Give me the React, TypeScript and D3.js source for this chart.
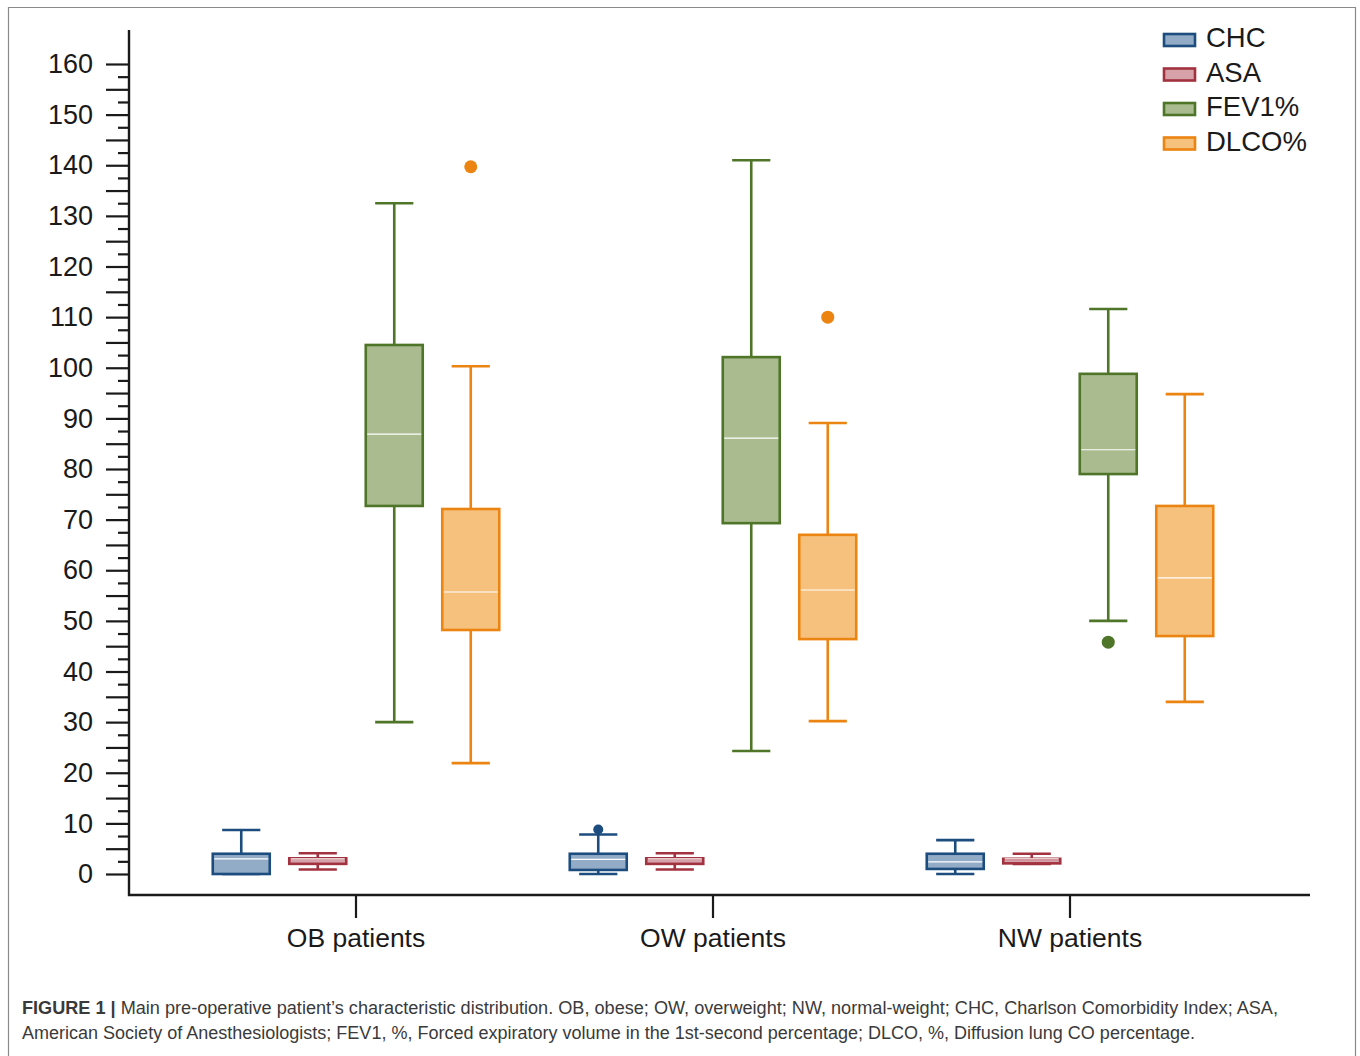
import React, { useEffect, useRef } from 'react';
import * as d3 from 'd3';

// groups on the x axis and the four series drawn in each group
const groups = ['OB patients', 'OW patients', 'NW patients'];
const seriesNames = ['CHC', 'ASA', 'FEV1%', 'DLCO%'];

// [lower whisker, q1, median, q3, upper whisker] per group
const chcStats = [
	[0, 0, 3, 4, 8.7],
	[0, 0.8, 2.9, 4, 7.8],
	[0, 1, 2.4, 4, 6.7],
];
const asaStats = [
	[0.9, 2, 3, 3.1, 4.1],
	[0.9, 2, 3, 3.1, 4.1],
	[2, 2.1, 3, 3, 4],
];
const fev1Stats = [
	[30, 72.7, 86.9, 104.5, 132.5],
	[24.3, 69.3, 86.1, 102.1, 141],
	[50, 79, 83.8, 98.8, 111.6],
];
const dlcoStats = [
	[21.9, 48.2, 55.7, 72.1, 100.3],
	[30.2, 46.4, 56.1, 67, 89.1],
	[34, 47, 58.5, 72.7, 94.8],
];

// outlier points per group
const chcOutliers = [[], [8.8], []];
const asaOutliers = [[], [], []];
const fev1Outliers = [[], [], [45.8]];
const dlcoOutliers = [[139.7], [110], []];

const yTickValues = d3.range(0, 161, 5);
const yMinorValues = d3.range(2.5, 160, 5);

const strokeColors = ['#1d4d7e', '#a2323f', '#4f7529', '#ec8412'];
const fillColors = ['#92abc6', '#d6a1a8', '#a9bb8f', '#f5c17d'];

const captionBold = 'FIGURE 1 |';
const captionLine1 =
	' Main pre-operative patient’s characteristic distribution. OB, obese; OW, overweight; NW, normal-weight; CHC, Charlson Comorbidity Index; ASA,';
const captionLine2 =
	'American Society of Anesthesiologists; FEV1, %, Forced expiratory volume in the 1st-second percentage; DLCO, %, Diffusion lung CO percentage.';

const W = 1360;
const H = 1056;
const font = '"Liberation Sans", Arial, sans-serif';

const App: React.FC = () => {
	const ref = useRef<SVGSVGElement>(null);

	useEffect(() => {
		if (!ref.current) return;
		const svg = d3.select(ref.current);
		svg.selectAll('*').remove();

		const axisX = 129;
		const axisBottom = 895;
		const axisTop = 30;
		const axisRight = 1310;

		// frame round the figure
		svg
			.append('path')
			.attr('d', `M8.5,${H} V7.5 H1355.5 V${H}`)
			.attr('fill', 'none')
			.attr('stroke', '#8a8a8a')
			.attr('stroke-width', 1.2);

		const y = d3.scaleLinear().domain([0, 160]).range([874, 64]);

		const x0 = d3.scaleBand().domain(groups).range([177.5, 1248.5]);
		const x1 = d3.scaleBand().domain(seriesNames).range([-153, 153]);
		const boxW = x1.bandwidth() * 0.745;
		const capW = boxW * 0.67;

		// --- y axis ---
		const yAxis = d3
			.axisLeft(y)
			.tickValues(yTickValues)
			.tickSize(23)
			.tickPadding(13)
			.tickFormat((d) => ((d as number) % 10 === 0 ? String(d) : ''));
		const gy = svg
			.append('g')
			.attr('transform', `translate(${axisX},0)`)
			.call(yAxis);
		gy.select('.domain').remove();
		gy.selectAll('line').attr('stroke', '#1a1a1a').attr('stroke-width', 2.2);
		gy.selectAll('text')
			.attr('font-family', font)
			.attr('font-size', 27)
			.attr('fill', '#1a1a1a');

		const gyMinor = svg
			.append('g')
			.attr('transform', `translate(${axisX},0)`)
			.call(
				d3
					.axisLeft(y)
					.tickValues(yMinorValues)
					.tickSize(11)
					.tickFormat(() => ''),
			);
		gyMinor.select('.domain').remove();
		gyMinor
			.selectAll('line')
			.attr('stroke', '#1a1a1a')
			.attr('stroke-width', 2.2);

		// axis lines
		svg
			.append('path')
			.attr('d', `M${axisX},${axisTop} V${axisBottom} H${axisRight}`)
			.attr('fill', 'none')
			.attr('stroke', '#1a1a1a')
			.attr('stroke-width', 2.4);

		// --- x axis ticks and labels ---
		const xAxis = d3
			.axisBottom(x0)
			.tickSize(23)
			.tickPadding(10)
			.tickSizeOuter(0);
		const gx = svg
			.append('g')
			.attr('transform', `translate(0,${axisBottom})`)
			.call(xAxis);
		gx.select('.domain').remove();
		gx.selectAll('line').attr('stroke', '#1a1a1a').attr('stroke-width', 2.2);
		gx.selectAll('text')
			.attr('font-family', font)
			.attr('font-size', 26.5)
			.attr('fill', '#1a1a1a');

		// --- boxes ---
		const statsBySeries = [chcStats, asaStats, fev1Stats, dlcoStats];
		const outliersBySeries = [chcOutliers, asaOutliers, fev1Outliers, dlcoOutliers];

		seriesNames.forEach((name, si) => {
			groups.forEach((grp, gi) => {
				const [lo, q1, med, q3, hi] = statsBySeries[si][gi];
				const cx = (x0(grp) ?? 0) + x0.bandwidth() / 2 + (x1(name) ?? 0) + x1.bandwidth() / 2;
				const g = svg.append('g');
				const stroke = strokeColors[si];

				// whiskers
				g.append('line')
					.attr('x1', cx)
					.attr('x2', cx)
					.attr('y1', y(hi))
					.attr('y2', y(q3))
					.attr('stroke', stroke)
					.attr('stroke-width', 2.6);
				g.append('line')
					.attr('x1', cx)
					.attr('x2', cx)
					.attr('y1', y(q1))
					.attr('y2', y(lo))
					.attr('stroke', stroke)
					.attr('stroke-width', 2.6);
				[lo, hi].forEach((v) => {
					g.append('line')
						.attr('x1', cx - capW / 2)
						.attr('x2', cx + capW / 2)
						.attr('y1', y(v))
						.attr('y2', y(v))
						.attr('stroke', stroke)
						.attr('stroke-width', 2.6);
				});

				// box
				g.append('rect')
					.attr('x', cx - boxW / 2)
					.attr('y', y(q3))
					.attr('width', boxW)
					.attr('height', Math.max(1, y(q1) - y(q3)))
					.attr('fill', fillColors[si])
					.attr('stroke', stroke)
					.attr('stroke-width', 2.6);

				// median
				g.append('line')
					.attr('x1', cx - boxW / 2 + 1.5)
					.attr('x2', cx + boxW / 2 - 1.5)
					.attr('y1', y(med))
					.attr('y2', y(med))
					.attr('stroke', '#ffffff')
					.attr('stroke-width', 1.2);

				// outliers
				outliersBySeries[si][gi].forEach((v) => {
					g.append('circle')
						.attr('cx', cx)
						.attr('cy', y(v))
						.attr('r', si === 0 ? 5 : 6.5)
						.attr('fill', stroke);
				});
			});
		});

		// --- legend ---
		const legend = svg
			.append('g')
			.selectAll('g')
			.data(seriesNames)
			.enter()
			.append('g')
			.attr('transform', (d, i) => `translate(1164,${34 + i * 34.5})`);
		legend
			.append('rect')
			.attr('width', 31)
			.attr('height', 12)
			.attr('fill', (d, i) => fillColors[i])
			.attr('stroke', (d, i) => strokeColors[i])
			.attr('stroke-width', 2.6);
		legend
			.append('text')
			.attr('x', 42)
			.attr('y', 13)
			.attr('font-family', font)
			.attr('font-size', 27.5)
			.attr('fill', '#1a1a1a')
			.text((d) => d);

		// --- caption ---
		const cap1 = svg
			.append('text')
			.attr('x', 22)
			.attr('y', 1014)
			.attr('font-family', font)
			.attr('font-size', 17.5)
			.attr('fill', '#3a3a3a')
			.attr('textLength', 1256)
			.attr('lengthAdjust', 'spacingAndGlyphs');
		cap1.append('tspan').attr('font-weight', 'bold').text(captionBold);
		cap1.append('tspan').text(captionLine1);
		svg
			.append('text')
			.attr('x', 22)
			.attr('y', 1039)
			.attr('font-family', font)
			.attr('font-size', 17.5)
			.attr('fill', '#3a3a3a')
			.attr('textLength', 1173)
			.attr('lengthAdjust', 'spacingAndGlyphs')
			.text(captionLine2);
	}, []);

	return (
		<svg
			ref={ref}
			width={W}
			height={H}
			style={{ position: 'absolute', left: 0, top: 0, background: '#fff' }}
		/>
	);
};

export default App;
